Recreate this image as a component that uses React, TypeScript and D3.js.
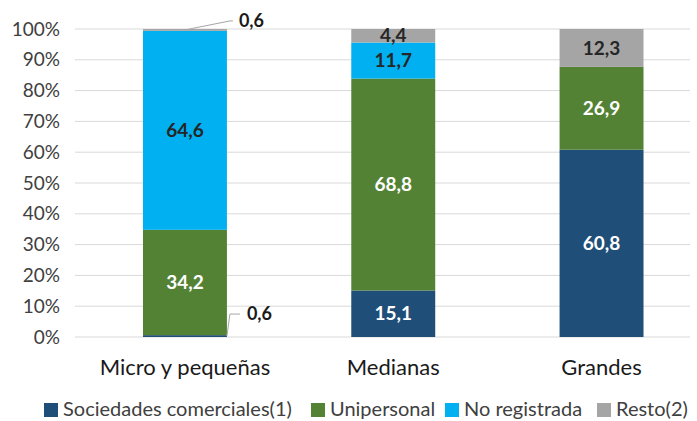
import React from 'react';
import * as d3 from 'd3';

const categories = ['Micro y pequeñas', 'Medianas', 'Grandes'];
const seriesNames = ['Sociedades comerciales(1)', 'Unipersonal', 'No registrada', 'Resto(2)'];
const sociedades = [0.6, 15.1, 60.8];
const unipersonal = [34.2, 68.8, 26.9];
const noRegistrada = [64.6, 11.7, 0];
const resto = [0.6, 4.4, 12.3];
const yTicks = [0, 10, 20, 30, 40, 50, 60, 70, 80, 90, 100];

const colors = ['#1F4E79', '#548235', '#00B0F0', '#A5A5A5'];
const labelColors = ['#ffffff', '#ffffff', '#262626', '#262626'];

const W = 697;
const H = 421;
const font = 'Lato, Carlito, Calibri, sans-serif';

export default function App() {
  const values = [sociedades, unipersonal, noRegistrada, resto];
  const rows = categories.map((c, i) => {
    const r: any = { cat: c };
    seriesNames.forEach((s, j) => (r[s] = values[j][i]));
    return r;
  });
  const stacked = d3.stack().keys(seriesNames)(rows);

  const x = d3.scaleBand().domain(categories).range([80.5, 706]).paddingInner(0.597).paddingOuter(0.3);
  const y = d3.scaleLinear().domain([0, 100]).range([337, 29]);
  const bw = x.bandwidth();

  const fmt = (v: number) => v.toFixed(1).replace('.', ',');

  // legend squares, placed as in the reference
  const legendX = [44, 311, 445, 597];

  return (
    <div style={{ position: 'fixed', left: 0, top: 0 }}>
      <svg width={W} height={H} style={{ display: 'block', background: '#fff' }}>
        {yTicks.map((t) => (
          <g key={t}>
            <line x1={75} x2={690} y1={y(t)} y2={y(t)} stroke="#d9d9d9" strokeWidth={1} />
            <text x={60} y={y(t)} dy="0.35em" textAnchor="end" fontFamily={font} fontSize={19} fill="#404040">
              {t}%
            </text>
          </g>
        ))}
        {stacked.map((s, j) => (
          <g key={s.key}>
            {s.map((d, i) => {
              if (d[1] - d[0] <= 0) return null;
              return (
                <rect
                  key={i}
                  x={x(categories[i])}
                  width={bw}
                  y={y(d[1])}
                  height={y(d[0]) - y(d[1])}
                  fill={colors[j]}
                />
              );
            })}
          </g>
        ))}
        {stacked.map((s, j) => (
          <g key={'l' + s.key}>
            {s.map((d, i) => {
              const v = d[1] - d[0];
              if (v <= 0) return null;
              const cx = (x(categories[i]) as number) + bw / 2;
              if (v < 1) {
                // small slices: labels outside with leader line
                const right = (x(categories[i]) as number) + bw;
                const yb = y((d[0] + d[1]) / 2);
                if (j === 0) {
                  return (
                    <g key={i}>
                      <path d={`M${right},${yb} L${right + 3},${yb - 22} L${right + 13},${yb - 22}`} fill="none" stroke="#a6a6a6" strokeWidth={1} />
                      <text x={right + 20} y={yb - 22} dy="0.35em" fontFamily={font} fontSize={18} fontWeight="bold" fill="#1a1a1a">
                        {fmt(v)}
                      </text>
                    </g>
                  );
                }
                return (
                  <g key={i}>
                    <path d={`M${cx},${yb} L${right + 3},${yb - 9} L${right + 6},${yb - 9}`} fill="none" stroke="#a6a6a6" strokeWidth={1} />
                    <text x={right + 12} y={yb - 9} dy="0.35em" fontFamily={font} fontSize={18} fontWeight="bold" fill="#1a1a1a">
                      {fmt(v)}
                    </text>
                  </g>
                );
              }
              return (
                <text
                  key={i}
                  x={cx}
                  y={y((d[0] + d[1]) / 2)}
                  dy="0.35em"
                  textAnchor="middle"
                  fontFamily={font}
                  fontSize={19}
                  fontWeight="bold"
                  fill={labelColors[j]}
                >
                  {fmt(v)}
                </text>
              );
            })}
          </g>
        ))}
        {categories.map((c) => (
          <text
            key={c}
            x={(x(c) as number) + bw / 2}
            y={367}
            dy="0.35em"
            textAnchor="middle"
            fontFamily={font}
            fontSize={22}
            fill="#1a1a1a"
          >
            {c}
          </text>
        ))}
        {seriesNames.map((s, j) => (
          <g key={s} transform={`translate(${legendX[j]},409)`}>
            <rect x={0} y={-6} width={14} height={14} fill={colors[j]} />
            <text x={19} y={0} dy="0.35em" fontFamily={font} fontSize={20} fill="#404040">
              {s}
            </text>
          </g>
        ))}
      </svg>
    </div>
  );
}
